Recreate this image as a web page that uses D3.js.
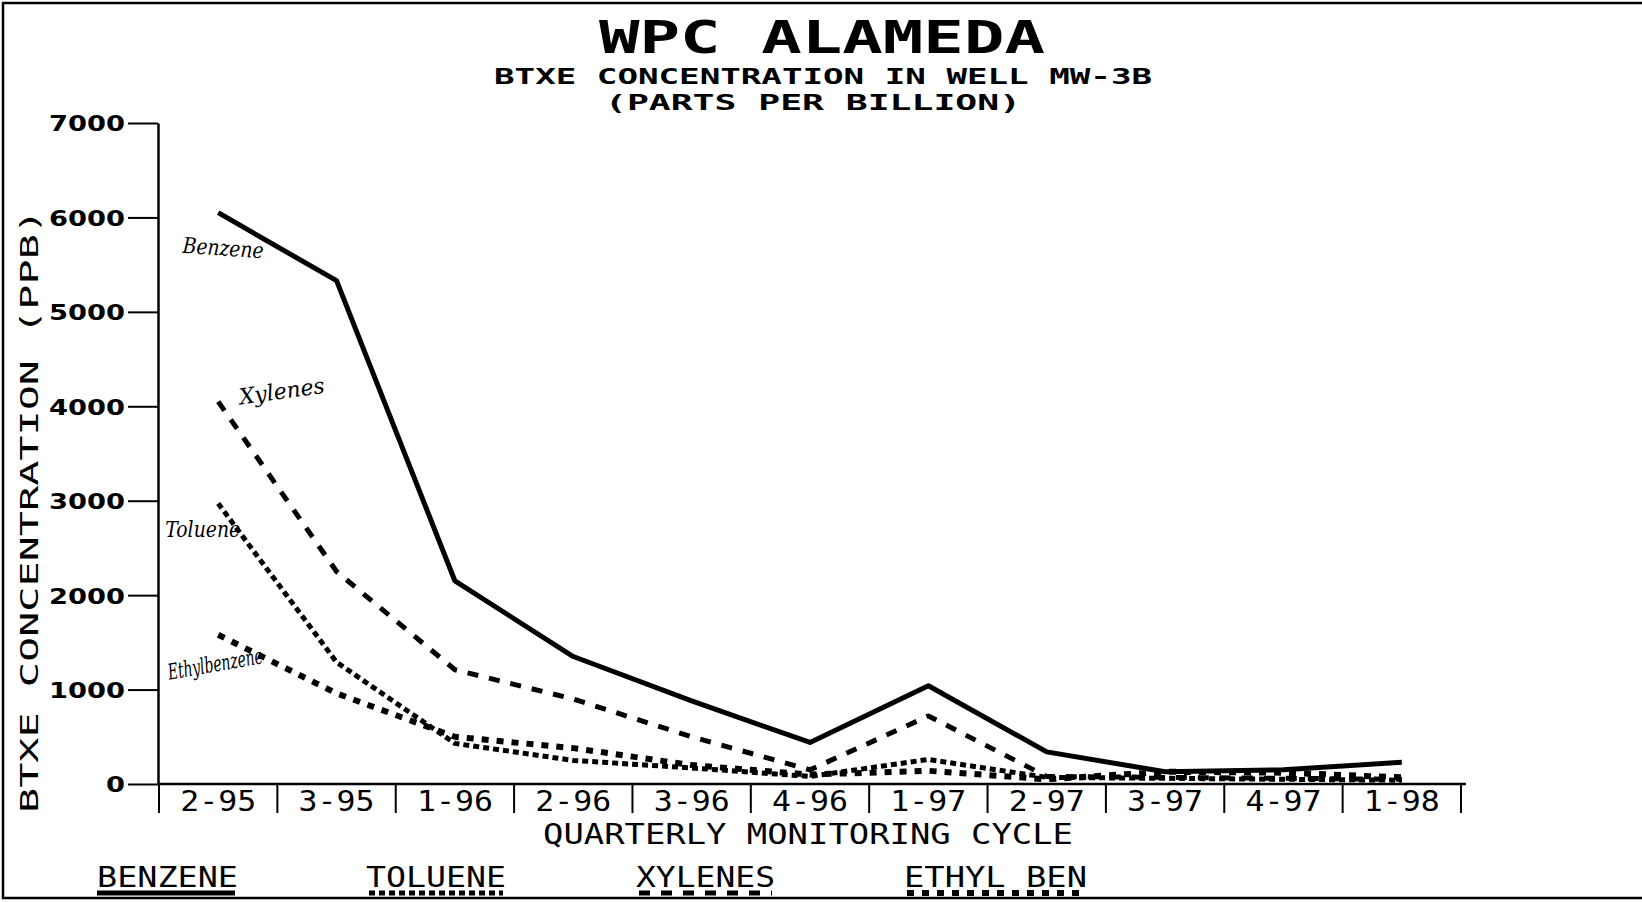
<!DOCTYPE html>
<html>
<head>
<meta charset="utf-8">
<script src="https://cdn.jsdelivr.net/npm/d3@7"></script>
<style>
  html, body { margin: 0; padding: 0; background: #fff; }
  svg { display: block; }
</style>
</head>
<body>
<svg id="chart" width="1642" height="902"></svg>
<script>
// quarterly sampling rounds
const categories = ["2-95", "3-95", "1-96", "2-96", "3-96", "4-96", "1-97", "2-97", "3-97", "4-97", "1-98"];

// concentrations in ppb
const benzene = [6050, 5330, 2150, 1350, 880, 440, 1040, 340, 130, 150, 230];
const toluene = [2970, 1290, 430, 250, 170, 80, 260, 70, 60, 50, 40];
const xylenes = [4050, 2250, 1210, 900, 500, 150, 720, 80, 70, 60, 50];
const ethylBen = [1580, 960, 500, 380, 200, 100, 140, 50, 130, 120, 70];

const yTicks = [0, 1000, 2000, 3000, 4000, 5000, 6000, 7000];

const legendNames = ["BENZENE", "TOLUENE", "XYLENES", "ETHYL BEN"];
const noteNames = ["Benzene", "Toluene", "Xylenes", "Ethylbenzene"];

const svg = d3.select("#chart");
const W = +svg.attr("width");

const mono = "'DejaVu Sans Mono', monospace";
const wide = "'DejaVu Sans', sans-serif";

// frame
svg.append("path")
  .attr("d", `M${W},3 H3 V898 H${W}`)
  .attr("fill", "none")
  .attr("stroke", "#000")
  .attr("stroke-width", 2.5);

const x = d3.scaleBand().domain(categories).range([159, 1461]).paddingInner(0).paddingOuter(0);
const y = d3.scaleLinear().domain([0, 7000]).range([784, 123]);
const cx = d => x(d) + x.bandwidth() / 2;

// titles
function label(txt, px, py, size, len, opts = {}) {
  return svg.append("text")
    .attr("x", px).attr("y", py)
    .attr("text-anchor", "middle")
    .attr("font-family", opts.family || mono)
    .attr("font-weight", opts.weight || "bold")
    .attr("font-size", size)
    .attr("textLength", len)
    .attr("lengthAdjust", "spacingAndGlyphs")
    .text(txt);
}
label("WPC ALAMEDA", 822, 53, 44, 446);
label("BTXE CONCENTRATION IN WELL MW-3B", 823, 84, 22, 658);
label("(PARTS PER BILLION)", 813, 110, 22, 416);
label("QUARTERLY MONITORING CYCLE", 808, 844, 28, 530, { weight: "normal" });

// y axis
const yAxis = d3.axisLeft(y)
  .tickValues(yTicks)
  .tickSize(30)
  .tickSizeOuter(0)
  .tickPadding(3)
  .tickFormat(d3.format("d"));

const gy = svg.append("g")
  .attr("transform", "translate(158,0)")
  .call(yAxis);
gy.select(".domain").attr("stroke-width", 2.5);
gy.selectAll(".tick line").attr("stroke-width", 2);
gy.selectAll(".tick text")
  .attr("font-family", wide)
  .attr("font-weight", "bold")
  .attr("font-size", 22)
  .attr("dy", "0.36em")
  .attr("textLength", d => String(d).length * 19)
  .attr("lengthAdjust", "spacingAndGlyphs");

svg.append("text")
  .attr("transform", "translate(38,511) rotate(-90)")
  .attr("text-anchor", "middle")
  .attr("font-family", mono)
  .attr("font-size", 25)
  .attr("textLength", 604)
  .attr("lengthAdjust", "spacingAndGlyphs")
  .text("BTXE CONCENTRATION (PPB)");

// x axis: labels centred in each band, dividers at band edges
const xAxis = d3.axisBottom(x).tickSize(0).tickPadding(6);
const gx = svg.append("g")
  .attr("transform", "translate(0,784)")
  .call(xAxis);
gx.select(".domain").remove();
gx.selectAll(".tick text")
  .attr("font-family", mono)
  .attr("font-size", 28)
  .attr("dy", "0.75em")
  .attr("textLength", 76)
  .attr("lengthAdjust", "spacingAndGlyphs");

svg.append("line")
  .attr("x1", x.range()[0]).attr("x2", x.range()[1] + 5)
  .attr("y1", y(0)).attr("y2", y(0))
  .attr("stroke", "#000").attr("stroke-width", 2.5);

const edges = categories.map(c => x(c)).concat([x.range()[1]]);
svg.append("g").selectAll("line")
  .data(edges)
  .join("line")
  .attr("x1", d => d).attr("x2", d => d)
  .attr("y1", y(0)).attr("y2", y(0) + 29)
  .attr("stroke", "#000")
  .attr("stroke-width", 2);

// series
const series = [
  { name: "Benzene", values: benzene, dash: null, width: 5 },
  { name: "Toluene", values: toluene, dash: "6,4", width: 5 },
  { name: "Xylenes", values: xylenes, dash: "11,11", width: 5 },
  { name: "Ethylbenzene", values: ethylBen, dash: "7,8", width: 6 }
];

const line = d3.line()
  .x((d, i) => cx(categories[i]))
  .y(d => y(d));

svg.append("g").selectAll("path")
  .data(series)
  .join("path")
  .attr("d", s => line(s.values))
  .attr("fill", "none")
  .attr("stroke", "#000")
  .attr("stroke-width", s => s.width)
  .attr("stroke-dasharray", s => s.dash)
  .attr("stroke-linejoin", "round");

// handwritten notes beside each series start
const notes = [
  { text: noteNames[0], s: benzene, dx: -36, dy: 40, rot: 4, len: 81 },
  { text: noteNames[1], s: toluene, dx: -53, dy: 33, rot: 0, len: 75 },
  { text: noteNames[2], s: xylenes, dx: 22, dy: 3, rot: -8, len: 86 },
  { text: noteNames[3], s: ethylBen, dx: -49, dy: 45, rot: -10, len: 96 }
];
svg.append("g").selectAll("text")
  .data(notes)
  .join("text")
  .attr("transform", d => `translate(${cx(categories[0]) + d.dx},${y(d.s[0]) + d.dy}) rotate(${d.rot})`)
  .attr("font-family", "'DejaVu Serif', serif")
  .attr("font-style", "italic")
  .attr("font-size", 22)
  .attr("textLength", d => d.len)
  .attr("lengthAdjust", "spacingAndGlyphs")
  .text(d => d.text);

// legend
const legendX = [97, 366, 636, 904];
const legendLen = [141, 140, 139, 183];
const leg = svg.append("g").selectAll("g")
  .data(series)
  .join("g")
  .attr("transform", (d, i) => `translate(${legendX[i]},0)`);

leg.append("text")
  .attr("x", 0).attr("y", 887)
  .attr("font-family", mono)
  .attr("font-size", 28)
  .attr("textLength", (d, i) => legendLen[i])
  .attr("lengthAdjust", "spacingAndGlyphs")
  .text((d, i) => legendNames[i]);

leg.append("line")
  .attr("x1", (d, i) => i === 0 ? 0 : 3)
  .attr("x2", (d, i) => legendLen[i] - 3)
  .attr("y1", 893).attr("y2", 893)
  .attr("stroke", "#000")
  .attr("stroke-width", d => d.width)
  .attr("stroke-dasharray", d => d.dash);
</script>
</body>
</html>
